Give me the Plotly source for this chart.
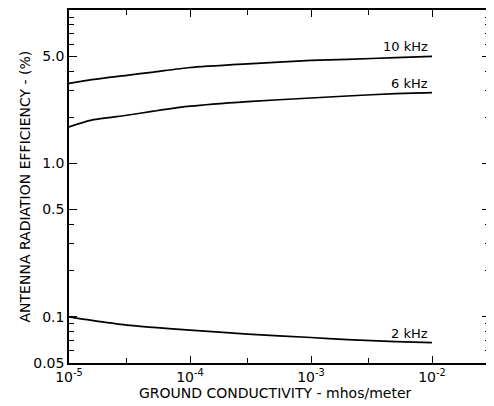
import numpy as np
import plotly.graph_objects as go

# Ground conductivity (mhos/meter)
conductivity = [1e-5, 1.5e-5, 3e-5, 5e-5, 1e-4, 3e-4, 1e-3, 2e-3, 5e-3, 1e-2]
# Antenna radiation efficiency (%)
eff_10khz = [3.32, 3.50, 3.75, 3.94, 4.22, 4.46, 4.69, 4.77, 4.89, 4.99]
eff_6khz = [1.73, 1.91, 2.06, 2.19, 2.36, 2.53, 2.67, 2.75, 2.85, 2.89]
eff_2khz = [0.100, 0.0951, 0.0883, 0.0853, 0.0820, 0.0771, 0.0733, 0.0711, 0.0690, 0.0678]
series_names = ["10 kHz", "6 kHz", "2 kHz"]

x_tickvals = [1e-5, 1e-4, 1e-3, 1e-2]
x_ticktext = ["10<sup>-5</sup>", "10<sup>-4</sup>", "10<sup>-3</sup>", "10<sup>-2</sup>"]
x_minor = [3e-5, 3e-4, 3e-3]
y_tickvals = [0.05, 0.1, 0.5, 1.0, 5.0]
y_ticktext = ["0.05", "0.1", "0.5", "1.0", "5.0"]
y_minor = [0.06, 0.07, 0.08, 0.09, 0.2, 0.3, 0.4, 2, 3, 4, 6, 7, 8, 9]

FONT = "DejaVu Sans"
fig = go.Figure()
for name, vals in zip(series_names, [eff_10khz, eff_6khz, eff_2khz]):
    fig.add_trace(go.Scatter(x=conductivity, y=vals, mode="lines", name=name,
                             line=dict(color="black", width=1.7, shape="spline", smoothing=0.6),
                             showlegend=False))
    fig.add_annotation(x=np.log10(conductivity[-1]), y=np.log10(vals[-1]),
                       text=name, showarrow=False, xanchor="right", yanchor="bottom",
                       xshift=-2, font=dict(family=FONT, size=13, color="black"))

fig.add_annotation(xref="paper", yref="paper", x=0, y=0.5, xshift=-45,
                   text="ANTENNA RADIATION EFFICIENCY - (%)", textangle=-90,
                   showarrow=False, xanchor="center", yanchor="middle",
                   font=dict(family=FONT, size=14, color="black"))
fig.add_annotation(xref="paper", yref="paper", x=0.49, y=0, yshift=-30,
                   text="GROUND CONDUCTIVITY - mhos/meter",
                   showarrow=False, xanchor="center", yanchor="middle",
                   font=dict(family=FONT, size=14, color="black"))

# page body has an 8px margin, so the figure is drawn 8px smaller
fig.update_layout(
    width=486, height=398,
    margin=dict(l=61, r=4, t=1.5, b=43, autoexpand=False),
    paper_bgcolor="white", plot_bgcolor="white",
    font=dict(family=FONT, color="black"),
)
fig.update_xaxes(
    type="log", range=[-5, -5 + 421 / 121], automargin=False,
    tickvals=x_tickvals, ticktext=x_ticktext,
    ticks="inside", ticklen=7, tickwidth=1, tickcolor="black",
    showline=True, linecolor="black", linewidth=1.5, mirror="ticks",
    showgrid=False, zeroline=False,
    tickfont=dict(size=14, family=FONT),
    minor=dict(tickvals=x_minor, ticks="inside", ticklen=5, tickcolor="black", showgrid=False),
)
fig.update_yaxes(
    type="log", range=[np.log10(0.05), 1], automargin=False,
    tickvals=y_tickvals, ticktext=y_ticktext,
    ticks="inside", ticklen=8, tickwidth=1, tickcolor="black",
    showline=True, linecolor="black", linewidth=1.5, mirror="ticks",
    showgrid=False, zeroline=False,
    tickfont=dict(size=14, family=FONT),
    minor=dict(tickvals=y_minor, ticks="inside", ticklen=5, tickcolor="black", showgrid=False),
)
fig.write_html("out.html")
